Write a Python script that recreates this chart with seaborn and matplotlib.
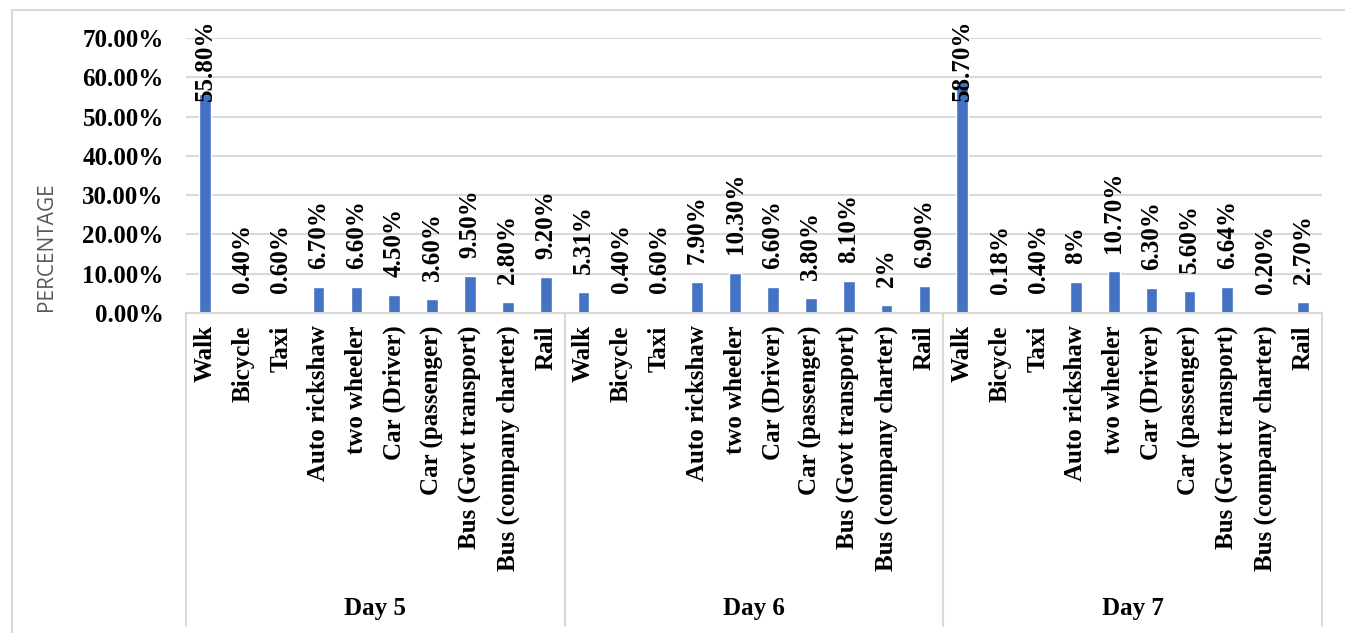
import matplotlib
matplotlib.use("Agg")
import matplotlib.pyplot as plt
from matplotlib.ticker import MultipleLocator, FuncFormatter
from matplotlib.transforms import blended_transform_factory
from matplotlib.patches import Rectangle
import seaborn as sns
import pandas as pd

# Travel mode shares (%) for each survey day
days = ["Day 5", "Day 6", "Day 7"]
modes = ["Walk", "Bicycle", "Taxi", "Auto rickshaw", "two wheeler", "Car (Driver)",
         "Car (passenger)", "Bus (Govt transport)", "Bus (company charter)", "Rail"]
day5 = [55.80, 0.40, 0.60, 6.70, 6.60, 4.50, 3.60, 9.50, 2.80, 9.20]
day6 = [5.31, 0.40, 0.60, 7.90, 10.30, 6.60, 3.80, 8.10, 2.0, 6.90]
day7 = [58.70, 0.18, 0.40, 8.0, 10.70, 6.30, 5.60, 6.64, 0.20, 2.70]

rows = []
for day, vals in zip(days, [day5, day6, day7]):
    for mode, v in zip(modes, vals):
        rows.append({"day": day, "mode": mode, "slot": f"{day}|{mode}", "share": v})
df = pd.DataFrame(rows)
slots = list(df["slot"])

sns.set_theme(style="white")
plt.rcParams["font.family"] = ["Liberation Serif", "DejaVu Serif"]
plt.rcParams["text.color"] = "black"
plt.rcParams["xtick.color"] = "black"
plt.rcParams["ytick.color"] = "black"

BLUE = "#4472C4"
GRID = "#d9d9d9"
FS = 18

fig = plt.figure(figsize=(13.45, 6.33), dpi=100)
ax = fig.add_axes([186 / 1345, 1 - 313 / 633, (1322 - 186) / 1345, (313 - 38) / 633])

sns.barplot(data=df, x="slot", y="share", order=slots, color=BLUE,
            width=0.31, saturation=1, ax=ax, errorbar=None)

ax.set_ylim(0, 70)
ax.set_xlim(-0.5, len(slots) - 0.5)
ax.yaxis.set_major_locator(MultipleLocator(10))
ax.yaxis.set_major_formatter(FuncFormatter(lambda v, p: f"{v:.2f}%"))
ax.grid(axis="y", color=GRID, linewidth=1.5)
ax.set_axisbelow(True)
for side in ["left", "right", "top"]:
    ax.spines[side].set_visible(False)
ax.spines["bottom"].set_color(GRID)
ax.spines["bottom"].set_linewidth(1.5)
ax.tick_params(axis="y", length=0, pad=16, labelsize=FS, labelcolor="black")
ax.tick_params(axis="x", length=0, pad=9, labelcolor="black")
for lbl in ax.get_yticklabels():
    lbl.set_fontweight("bold")

ax.set_xticks(range(len(slots)))
ax.set_xticklabels(list(df["mode"]), rotation=90, fontsize=FS, fontweight="bold",
                   va="top", ha="center", color="black")
ax.set_xlabel("")
ax.set_ylabel("")

# value labels above bars
for i, v in enumerate(df["share"]):
    txt = f"{v:.0f}%" if float(v).is_integer() else f"{v:.2f}%"
    if v > 50:
        ax.annotate(txt, (i, 70), xytext=(0, 13.5), textcoords="offset points",
                    rotation=90, ha="center", va="top", fontsize=FS,
                    fontweight="bold", color="black", annotation_clip=False)
    else:
        ax.annotate(txt, (i, v), xytext=(0, 13), textcoords="offset points",
                    rotation=90, ha="center", va="bottom", fontsize=FS,
                    fontweight="bold", color="black", annotation_clip=False)

# group separators and day labels under the category labels
tr = blended_transform_factory(ax.transData, fig.transFigure)
for b in [-0.5, 9.5, 19.5, 29.5]:
    ax.plot([b, b], [1 - 313 / 633, 1 - 626 / 633], transform=tr, color=GRID,
            linewidth=1.5, clip_on=False)
for k, day in enumerate(days):
    ax.text(4.5 + 10 * k, 1 - 608 / 633, day, transform=tr, ha="center",
            va="center", fontsize=FS, fontweight="bold", color="black")

fig.text(47 / 1345, 1 - 246.5 / 633, "PERCENTAGE", rotation=90, ha="center",
         va="center", fontsize=15, color="#595959", family=["Open Sans", "DejaVu Sans"])

# chart border
fig.patches.append(Rectangle((12 / 1345, -0.05), 1.1, 1 - 10 / 633 + 0.05,
                             transform=fig.transFigure, fill=False,
                             edgecolor=GRID, linewidth=1.5))

fig.savefig("out.png", dpi=100)
